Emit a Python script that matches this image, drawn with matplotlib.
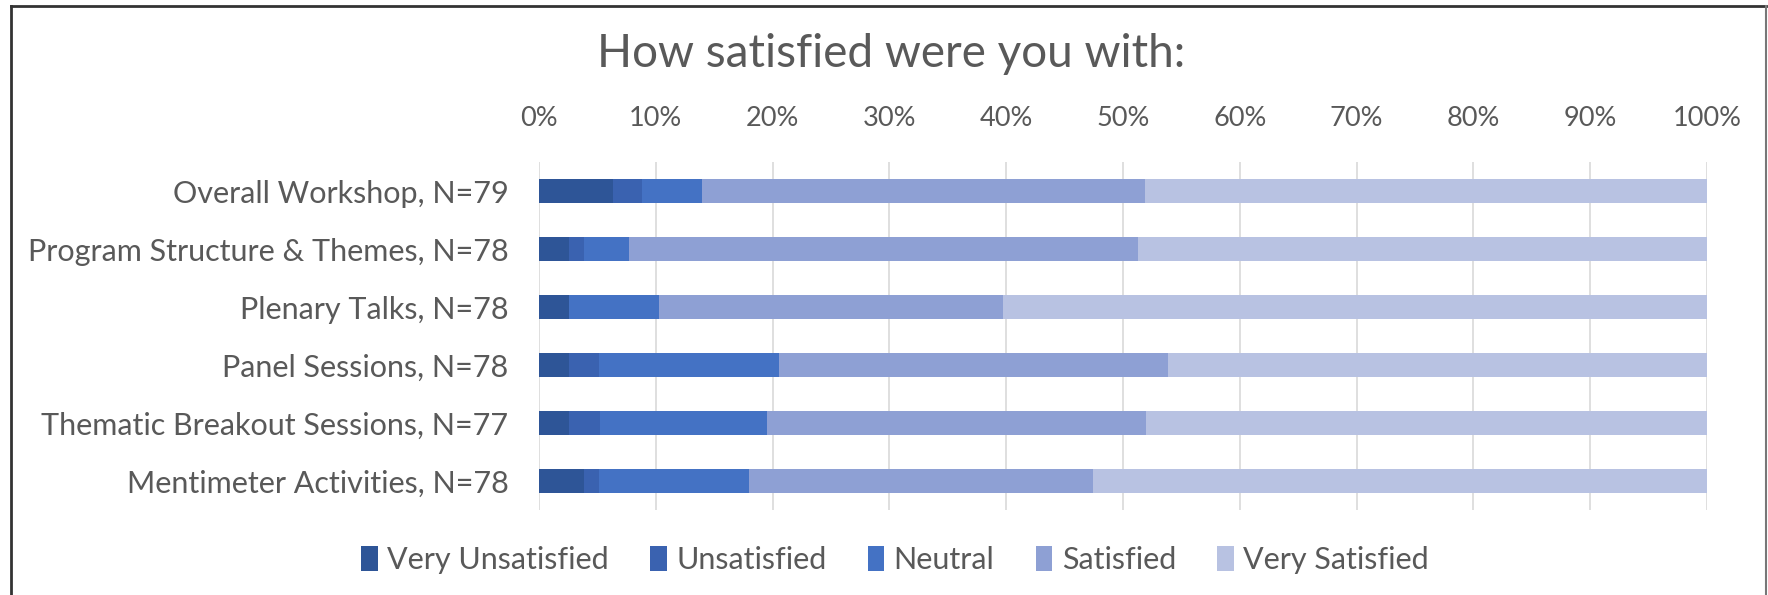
import matplotlib
matplotlib.use("Agg")
import matplotlib.pyplot as plt
from matplotlib.lines import Line2D
import numpy as np

categories = ["Overall Workshop, N=79", "Program Structure & Themes, N=78",
              "Plenary Talks, N=78", "Panel Sessions, N=78",
              "Thematic Breakout Sessions, N=77", "Mentimeter Activities, N=78"]
series_names = ["Very Unsatisfied", "Unsatisfied", "Neutral", "Satisfied", "Very Satisfied"]
very_unsatisfied = [5, 2, 2, 2, 2, 3]
unsatisfied = [2, 1, 0, 2, 2, 1]
neutral = [4, 3, 6, 12, 11, 10]
satisfied = [30, 34, 23, 26, 25, 23]
very_satisfied = [38, 38, 47, 36, 37, 41]
tick_labels = ["0%", "10%", "20%", "30%", "40%", "50%", "60%", "70%", "80%", "90%", "100%"]
colors = ["#2E5597", "#3A62B0", "#4472C4", "#8EA0D4", "#B8C2E2"]

plt.rcParams['font.family'] = ['Lato', 'DejaVu Sans']

counts = np.array([very_unsatisfied, unsatisfied, neutral, satisfied, very_satisfied], dtype=float)
totals = counts.sum(axis=0)
pct = counts / totals

fig = plt.figure(figsize=(17.68, 5.95), dpi=100)
ax = fig.add_axes([539/1768, 1-510/595, 1168/1768, 348/595])

y = np.arange(len(categories))
left = np.zeros(len(categories))
for i, name in enumerate(series_names):
    ax.barh(y, pct[i], left=left, height=0.4, color=colors[i], label=name)
    left += pct[i]

ax.set_xlim(0, 1)
ax.set_ylim(len(categories) - 0.5, -0.5)
ax.set_xticks(np.linspace(0, 1, 11))
ax.set_xticklabels(tick_labels)
ax.xaxis.tick_top()
ax.set_yticks(y)
ax.set_yticklabels(categories)
ax.tick_params(axis='both', length=0, colors='#595959')
ax.tick_params(axis='x', labelsize=19.5, pad=22)
ax.tick_params(axis='y', labelsize=22, pad=22)
ax.grid(axis='x', color='#D9D9D9', linewidth=1.2)
ax.set_axisbelow(True)
for s in ax.spines.values():
    s.set_visible(False)

fig.text(891/1768, 1-54/595, "How satisfied were you with:", ha='center', va='center',
         fontsize=33, color='#595959')

fig.legend(loc='center', bbox_to_anchor=(895/1768, 1-560/595), ncol=5, frameon=False,
           fontsize=22, labelcolor='#595959', handlelength=0.55, handleheight=0.85,
           handletextpad=0.3, columnspacing=1.35)

# outer border
fig.add_artist(Line2D([11/1768, 1766/1768], [1-6/595, 1-6/595], color='#333333', linewidth=2, transform=fig.transFigure))
fig.add_artist(Line2D([11/1768, 11/1768], [0, 1-6/595], color='#333333', linewidth=2, transform=fig.transFigure))
fig.add_artist(Line2D([1766/1768, 1766/1768], [0, 1-6/595], color='#777777', linewidth=1.5, transform=fig.transFigure))

fig.savefig("out.png", dpi=100)
